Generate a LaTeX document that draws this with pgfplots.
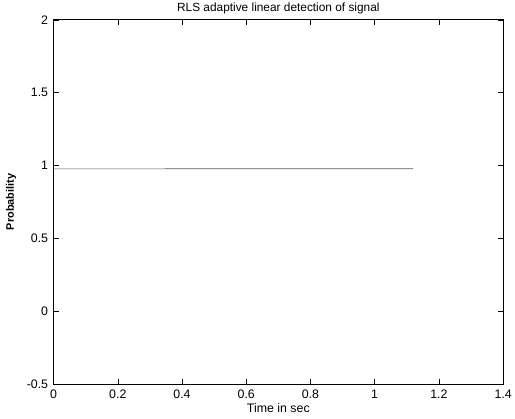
\documentclass[border=0pt]{standalone}
\usepackage{fontspec}
\setmainfont{Liberation Sans}
\usepackage{pgfplots}
\pgfplotsset{compat=1.18}
\usetikzlibrary{calc}
\begin{document}
\begin{tikzpicture}
\begin{axis}[
  scale only axis,
  width=453bp, height=367bp,
  xmin=0, xmax=1.4, ymin=-0.5, ymax=2,
  xtick={0,0.2,...,1.4}, ytick={-0.5,0,0.5,1,1.5,2},
  xticklabels={0,0.2,0.4,0.6,0.8,1,1.2,1.4},
  yticklabels={-0.5,0,0.5,1,1.5,2},
  tick align=inside,
  major tick length=5bp,
  tick style={black, line width=0.6bp},
  axis line style={black, line width=0.8bp},
  ticklabel style={font=\fontsize{12.5}{14}\selectfont},
  xticklabel style={yshift=-2bp},
  yticklabel style={xshift=-2bp},
  title={RLS adaptive linear detection of signal},
  title style={font=\fontsize{12}{13}\selectfont, yshift=-4bp},
  xlabel={Time in sec},
  xlabel style={font=\fontsize{12.5}{14}\selectfont, yshift=2bp},
  ylabel={\textbf{Probability}},
  ylabel style={font=\fontsize{11}{13}\selectfont, yshift=4bp},
]
\addplot[gray!70!black, line width=0.7bp, no marks] coordinates {(0,0.977) (0.3,0.977) (0.6,0.978) (0.9,0.978) (1.12,0.978)};
\end{axis}
\useasboundingbox ($(current axis.south west)+(-54bp,-35bp)$) rectangle ($(current axis.north east)+(8bp,20bp)$);
\end{tikzpicture}
\end{document}
